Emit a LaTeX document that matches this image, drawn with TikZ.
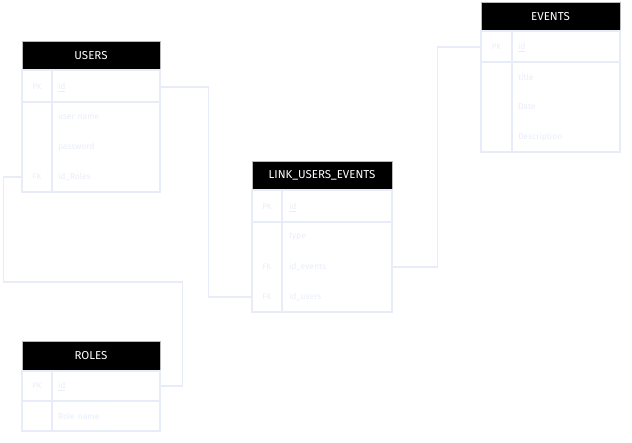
\documentclass[tikz,border=0pt]{standalone}
\usepackage{fontspec}
\setmainfont{Fira Sans}
\usetikzlibrary{positioning,calc}
\definecolor{faintline}{RGB}{232,236,249}
\definecolor{fainttext}{RGB}{234,237,249}

\tikzset{
  header/.style={fill=black, draw=gray!55, line width=0.6pt, text=white, minimum width=138pt, minimum height=29pt, inner sep=0pt, font=\fontsize{11.5}{13}\selectfont},
  tableline/.style={draw=faintline, line width=1.3pt},
  keycell/.style={minimum width=30pt, minimum height=30pt, inner sep=0pt, text=fainttext, font=\fontsize{8}{9}\selectfont},
  fieldcell/.style={minimum width=108pt, minimum height=30pt, inner xsep=6pt, inner ysep=0pt, text width=96pt, align=left, text=fainttext, font=\fontsize{8.5}{10}\selectfont},
  relation/.style={draw=faintline, line width=1.3pt}
}

\begin{document}
\begin{tikzpicture}[x=1pt, y=-1pt]
    \useasboundingbox (0,0) rectangle (632,442);

    % USERS
    \node [header] (usersHead) at (91,55.5) {USERS};
    \draw [tableline] (22,70) rectangle (160,192);
    \draw [tableline] (52,70) -- (52,192);
    \draw [tableline] (22,102) -- (160,102);
    \node [keycell] (usersIdKey) at (37,87) {PK};
    \node [fieldcell] (usersId) at (106,87) {\underline{id}};
    \node [fieldcell] (usersName) at (106,117) {user name};
    \node [fieldcell] (usersPass) at (106,147) {password};
    \node [keycell] (usersRolesKey) at (37,177) {FK};
    \node [fieldcell] (usersRoles) at (106,177) {id\_Roles};

    % LINK_USERS_EVENTS
    \node [header, minimum width=140pt] (linkHead) at (322,175.5) {LINK\_USERS\_EVENTS};
    \draw [tableline] (252,190) rectangle (392,312);
    \draw [tableline] (282,190) -- (282,312);
    \draw [tableline] (252,222) -- (392,222);
    \node [keycell] (linkIdKey) at (267,207) {PK};
    \node [fieldcell, minimum width=110pt] (linkId) at (337,207) {\underline{id}};
    \node [fieldcell, minimum width=110pt] (linkType) at (337,237) {type};
    \node [keycell] (linkEventsKey) at (267,267) {FK};
    \node [fieldcell, minimum width=110pt] (linkEvents) at (337,267) {id\_events};
    \node [keycell] (linkUsersKey) at (267,297) {FK};
    \node [fieldcell, minimum width=110pt] (linkUsers) at (337,297) {id\_users};

    % EVENTS
    \node [header, minimum width=139pt] (eventsHead) at (550.5,16.5) {EVENTS};
    \draw [tableline] (481,31) rectangle (620,152);
    \draw [tableline] (512,31) -- (512,152);
    \draw [tableline] (481,62) -- (620,62);
    \node [keycell] (eventsIdKey) at (496.5,47) {PK};
    \node [fieldcell] (eventsId) at (566,47) {\underline{id}};
    \node [fieldcell] (eventsTitle) at (566,77) {title};
    \node [fieldcell] (eventsDate) at (566,107) {Date};
    \node [fieldcell] (eventsDesc) at (566,137) {Description};

    % ROLES
    \node [header] (rolesHead) at (91,356) {ROLES};
    \draw [tableline] (22,371) rectangle (160,431);
    \draw [tableline] (52,371) -- (52,431);
    \draw [tableline] (22,401) -- (160,401);
    \node [keycell] (rolesIdKey) at (37,386) {PK};
    \node [fieldcell] (rolesId) at (106,386) {\underline{id}};
    \node [fieldcell] (rolesName) at (106,416) {Role name};

    % relations
    \draw [relation] (usersId.east) -- ++(48,0) |- (linkUsersKey.west);
    \draw [relation] (linkEvents.east) -- ++(45,0) |- (eventsIdKey.west);
    \draw [relation] (usersRolesKey.west) -- ++(-18,0) -- ++(0,105) -| ($(rolesId.east)+(22,0)$) |- (rolesId.east);
\end{tikzpicture}
\end{document}
